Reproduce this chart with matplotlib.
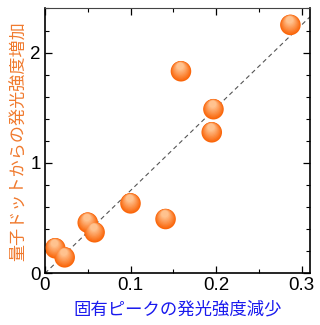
import numpy as np
import matplotlib
matplotlib.use("Agg")
import matplotlib.pyplot as plt
import matplotlib.transforms as mtransforms
from matplotlib.ticker import MultipleLocator

plt.rcParams['font.family'] = ['Liberation Sans', 'Noto Sans CJK JP', 'DejaVu Sans']

# data
x_decrease = [0.012, 0.023, 0.050, 0.058, 0.100, 0.141, 0.159, 0.197, 0.195, 0.287]
y_increase = [0.227, 0.145, 0.459, 0.372, 0.634, 0.492, 1.831, 1.487, 1.278, 2.251]
slope = 7.5
line_x = [0.0, 0.31]

xlabel = "固有ピークの発光強度減少"
ylabel = "量子ドットからの発光強度増加"

fig = plt.figure(figsize=(3.2, 3.25), dpi=100)
ax = fig.add_axes([0.1406, 0.159, 0.8284, 0.815])

ax.plot(line_x, [slope * v for v in line_x], ls=(0, (4, 3)), color="#555555", lw=0.8, zorder=1)

# shaded spheres: stacked circles, lighter and smaller toward the top
dark = np.array([0.98, 0.40, 0.04])
light = np.array([1.0, 0.76, 0.56])
r_pt = 7.4
nlay = 10
for i in range(nlay):
    t = i / (nlay - 1)
    f = 1.0 - 0.65 * t
    shift = (1 - f) * r_pt * 0.75
    tr = mtransforms.offset_copy(ax.transData, fig=fig, x=-shift * 0.15, y=shift, units='points')
    col = dark * (1 - t) + light * t
    ax.scatter(x_decrease, y_increase, s=(2 * r_pt * f) ** 2, color=col,
               edgecolors='none', transform=tr, zorder=2 + i)

ax.set_xlim(0, 0.31)
ax.set_ylim(0, 2.4)
ax.xaxis.set_major_locator(MultipleLocator(0.1))
ax.xaxis.set_minor_locator(MultipleLocator(0.05))
ax.yaxis.set_major_locator(MultipleLocator(1))
ax.yaxis.set_minor_locator(MultipleLocator(0.2))
ax.xaxis.set_major_formatter(matplotlib.ticker.FuncFormatter(lambda v, p: "0" if v == 0 else f"{v:.1f}"))

ax.tick_params(which='both', direction='in', top=True, right=True, labelsize=13.5, pad=3)
ax.tick_params(which='major', length=5, width=0.9)
ax.tick_params(which='minor', length=3, width=0.8)
for s in ax.spines.values():
    s.set_linewidth(1.2)
ax.spines['top'].set_linewidth(0.8)
ax.spines['top'].set_color("#444444")

ax.set_xlabel(xlabel, color="#1a1aee", fontsize=12.5, family=['Noto Sans CJK JP'], labelpad=4)
ax.set_ylabel(ylabel, color="#f07a2e", fontsize=12.3, family=['Noto Sans CJK JP'], labelpad=2)

fig.savefig("out.png", dpi=100)
